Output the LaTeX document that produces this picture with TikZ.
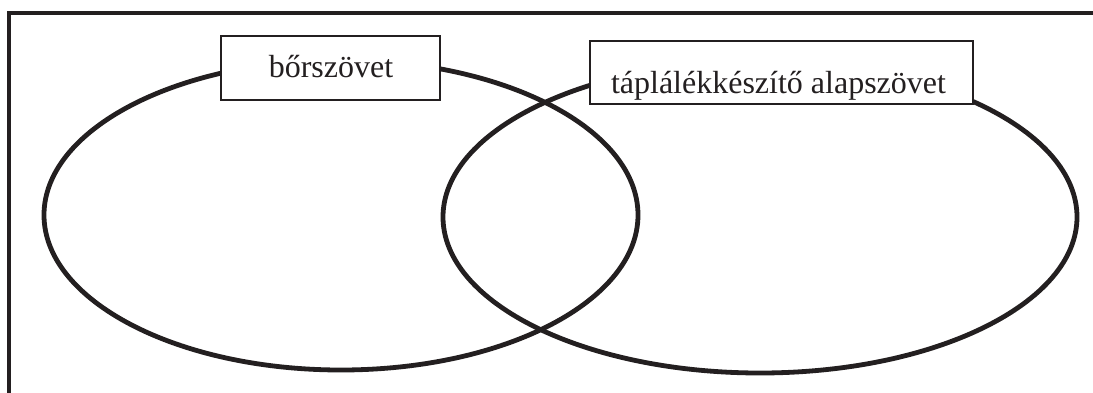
\documentclass[tikz,border=0pt]{standalone}
\usepackage{fontspec}
\setmainfont{Liberation Serif}
\definecolor{ink}{HTML}{231F20}
\begin{document}
\begin{tikzpicture}[x=1pt,y=-1pt,
  thickline/.style={draw=ink,line width=4.8pt},
  labelbox/.style={draw=ink,line width=1.6pt,fill=white,inner sep=0pt},
  labeltext/.style={anchor=base,inner sep=0pt,font=\fontsize{32}{36}\selectfont,text=ink}]
\useasboundingbox (0,0) rectangle (1093,392);
% frame
\draw[thickline] (9,400) -- (9,13) -- (1100,13);
% ellipses
\draw[thickline] (341,215) ellipse [x radius=297pt, y radius=155pt];
\draw[thickline] (760,217) ellipse [x radius=317pt, y radius=156pt];
% boxes
\node[labelbox,minimum width=219pt,minimum height=64pt] (b1) at (330.5,68) {};
\node[labeltext] (t1) at (331,77) {bőrszövet};
\node[labelbox,minimum width=383pt,minimum height=63pt] (b2) at (781.5,72.5) {};
\node[labeltext] (t2) at (778.5,93) {táplálékkészítő alapszövet};
\end{tikzpicture}
\end{document}
